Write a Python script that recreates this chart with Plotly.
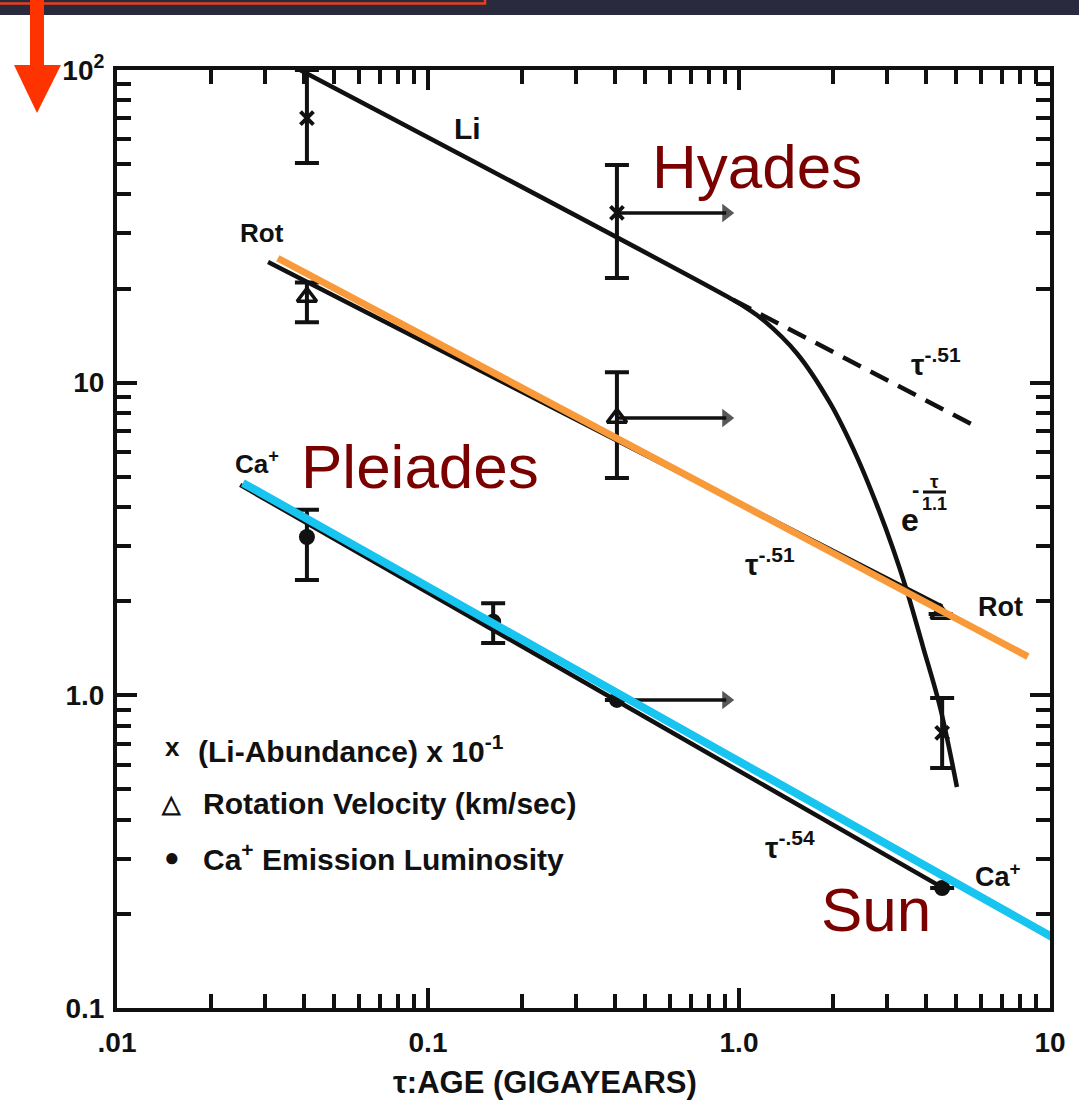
import plotly.graph_objects as go

# ---------------- data ----------------
# Li abundance x 10^-1 (x markers)
li_age = [0.0408, 0.405, 4.5]
li_val = [70.2, 34.9, 0.758]
li_hi = [100.0, 49.7, 0.98]
li_lo = [50.4, 21.6, 0.586]

# Rotation velocity km/s (triangles)
rot_age = [0.0408, 0.405, 4.45]
rot_val = [18.8, 7.71, 1.82]
rot_hi = [20.9, 10.8, 1.82]
rot_lo = [15.6, 4.96, 1.82]

# Ca+ emission luminosity (dots)
ca_age = [0.0408, 0.162, 0.405, 4.5]
ca_val = [3.21, 1.72, 0.967, 0.242]
ca_hi = [3.92, 1.97, 0.967, 0.242]
ca_lo = [2.34, 1.47, 0.967, 0.242]

# Hyades lower-limit arrows (start age, end age)
arrow_age = [0.405, 0.91]

# Li fitted curve (power law then exponential decline)
li_curve_age = [0.0388, 0.957, 1.07, 1.194, 1.536, 1.962, 2.394, 2.778, 3.126, 3.47, 3.905, 4.43, 5.02]
li_curve_val = [100.0, 18.4, 17.2, 15.9, 12.4, 8.61, 5.79, 4.05, 2.95, 2.15, 1.43, 0.918, 0.509]
# dashed continuation tau^-.51
li_dash_age = [0.957, 5.65]
li_dash_val = [18.4, 7.33]

# Rot fitted line (black) and overlay (orange)
rot_fit_age = [0.0306, 4.5]
rot_fit_val = [24.3, 1.92]
orange_age = [0.0329, 8.49]
orange_val = [25.0, 1.33]

# Ca fitted line (black) and overlay (cyan)
ca_fit_age = [0.0249, 4.6]
ca_fit_val = [4.71, 0.24]
cyan_age = [0.0254, 10.8]
cyan_val = [4.78, 0.163]

x_tickvals = [0.01, 0.1, 1, 10]
x_ticktext = ['.01', '0.1', '1.0', '10']
y_tickvals = [0.1, 1, 10, 100]
y_ticktext = ['0.1', '1.0', '10', '10<sup>2</sup>']
x_minor = [0.02, 0.03, 0.04, 0.05, 0.06, 0.07, 0.08, 0.09,
           0.2, 0.3, 0.4, 0.5, 0.6, 0.7, 0.8, 0.9,
           2, 3, 4, 5, 6, 7, 8, 9]
y_minor = [0.2, 0.3, 0.4, 0.5, 0.6, 0.7, 0.8, 0.9,
           2, 3, 4, 5, 6, 7, 8, 9,
           20, 30, 40, 50, 60, 70, 80, 90]

# ---------------- layout helpers ----------------
W, H = 1079, 1103
L, R, T, B = 117, 29, 70, 95
PW, PH = W - L - R, H - T - B


def px(x):
    return (x - L) / PW


def py(y):
    return (H - B - y) / PH


FONT = "Liberation Sans, Arial, sans-serif"
BLACK = "#111111"

fig = go.Figure()

# fitted lines
fig.add_trace(go.Scatter(x=li_curve_age, y=li_curve_val, mode="lines",
                         line=dict(color=BLACK, width=4.5, shape="spline", smoothing=1.0),
                         hoverinfo="skip", showlegend=False))
fig.add_trace(go.Scatter(x=li_dash_age, y=li_dash_val, mode="lines",
                         line=dict(color=BLACK, width=4.5, dash="20px,11px"),
                         hoverinfo="skip", showlegend=False))
fig.add_trace(go.Scatter(x=rot_fit_age, y=rot_fit_val, mode="lines",
                         line=dict(color=BLACK, width=4.5), hoverinfo="skip", showlegend=False))
fig.add_trace(go.Scatter(x=ca_fit_age, y=ca_fit_val, mode="lines",
                         line=dict(color=BLACK, width=4.5), hoverinfo="skip", showlegend=False))

# Hyades lower-limit arrows
for yv in [li_val[1], rot_val[1], ca_val[2]]:
    fig.add_trace(go.Scatter(x=arrow_age, y=[yv, yv], mode="lines+markers",
                             line=dict(color=BLACK, width=3.5),
                             marker=dict(symbol=["circle", "triangle-right"], size=[0, 16],
                                         color=BLACK, line=dict(width=0)),
                             hoverinfo="skip", showlegend=False))

# data points
fig.add_trace(go.Scatter(
    x=li_age, y=li_val, mode="markers", name="Li",
    marker=dict(symbol="x-thin", size=13, line=dict(width=4, color=BLACK)),
    error_y=dict(type="data", symmetric=False,
                 array=[h - v for h, v in zip(li_hi, li_val)],
                 arrayminus=[v - l for v, l in zip(li_val, li_lo)],
                 width=12, thickness=4, color=BLACK),
    showlegend=False))
fig.add_trace(go.Scatter(
    x=rot_age, y=rot_val, mode="markers", name="Rot",
    marker=dict(symbol="triangle-up-open", size=17, color=BLACK, line=dict(width=3.5, color=BLACK)),
    error_y=dict(type="data", symmetric=False,
                 array=[h - v for h, v in zip(rot_hi, rot_val)],
                 arrayminus=[v - l for v, l in zip(rot_val, rot_lo)],
                 width=12, thickness=4, color=BLACK),
    showlegend=False))
fig.add_trace(go.Scatter(
    x=ca_age, y=ca_val, mode="markers", name="Ca+",
    marker=dict(symbol="circle", size=16, color=BLACK),
    error_y=dict(type="data", symmetric=False,
                 array=[h - v for h, v in zip(ca_hi, ca_val)],
                 arrayminus=[v - l for v, l in zip(ca_val, ca_lo)],
                 width=12, thickness=4, color=BLACK),
    showlegend=False))

# colour overlays
fig.add_trace(go.Scatter(x=orange_age, y=orange_val, mode="lines",
                         line=dict(color="#f89a3a", width=7), hoverinfo="skip", showlegend=False))
fig.add_trace(go.Scatter(x=cyan_age, y=cyan_val, mode="lines",
                         line=dict(color="#18c4f0", width=8), hoverinfo="skip", showlegend=False))

axis_common = dict(
    type="log", showline=True, linewidth=4, linecolor=BLACK, mirror="ticks",
    ticks="inside", ticklen=20, tickwidth=4, tickcolor=BLACK,
    showgrid=False, zeroline=False, tickmode="array",
    tickfont=dict(family=FONT, size=28, color=BLACK),
)

fig.update_xaxes(range=[-2, 1], tickvals=x_tickvals,
                 ticktext=["<b>%s</b>" % t for t in x_ticktext],
                 ticklabelstandoff=6,
                 minor=dict(ticks="inside", ticklen=14, tickwidth=4, tickcolor=BLACK,
                            tickmode="array", tickvals=x_minor, showgrid=False),
                 **axis_common)
fig.update_yaxes(range=[-1, 2], tickvals=y_tickvals,
                 ticktext=["<b>%s</b>" % t for t in y_ticktext],
                 ticklabelstandoff=3,
                 minor=dict(ticks="inside", ticklen=14, tickwidth=4, tickcolor=BLACK,
                            tickmode="array", tickvals=y_minor, showgrid=False),
                 **axis_common)

ann = []


def text(x, y, s, size=26, color=BLACK, xanchor="center", bold=True, family=FONT):
    ann.append(dict(x=px(x), y=py(y), xref="paper", yref="paper", showarrow=False,
                    text=("<b>%s</b>" % s) if bold else s, xanchor=xanchor, yanchor="middle",
                    font=dict(family=family, size=size, color=color)))


# curve labels
text(467, 128, "Li", 30)
text(262, 233, "Rot", 26)
text(257, 462, "Ca<sup>+</sup>", 26)
text(936, 362, "τ<sup>-.51</sup>", 30)
text(770, 562, "τ<sup>-.51</sup>", 30)
text(790, 845, "τ<sup>-.54</sup>", 30)
text(1000, 607, "Rot", 27)
text(998, 875, "Ca<sup>+</sup>", 27)
# e^{-tau/1.1}
text(910, 520, "e", 32)
text(915, 489, "-", 22)
text(934, 481, "τ", 19)
text(934, 504, "1.1", 18)

# key
text(172, 747, "x", 26)
text(196, 749, "(Li-Abundance) x 10<sup>-1</sup>", 30, xanchor="left")
text(171, 803, "△", 24)
text(201, 803, "Rotation Velocity (km/sec)", 30, xanchor="left")
text(172, 857, "●", 26)
text(201, 857, "Ca<sup>+</sup> Emission Luminosity", 30, xanchor="left")

# axis title
text(545, 1082, "τ:AGE (GIGAYEARS)", 31)

# overlay labels
DARKRED = "#7b0000"
text(757, 166, "Hyades", 62, DARKRED, bold=False, family="Liberation Sans, Arial, Helvetica")
text(420, 467, "Pleiades", 62, DARKRED, bold=False, family="Liberation Sans, Arial, Helvetica")
text(876, 909, "Sun", 62, DARKRED, bold=False, family="Liberation Sans, Arial, Helvetica")

shapes = [
    # top dark bar
    dict(type="rect", xref="paper", yref="paper", x0=px(-5), x1=px(W + 5), y0=py(15), y1=py(-5),
         fillcolor="#292a3e", line=dict(width=0), layer="above"),
    # red outline box (slide element)
    dict(type="rect", xref="paper", yref="paper", x0=px(-10), x1=px(485), y0=py(3.5), y1=py(-20),
         fillcolor="rgba(0,0,0,0)", line=dict(color="#e8401c", width=2.5), layer="above"),
    # fraction bar of e^{-tau/1.1}
    dict(type="line", xref="paper", yref="paper", x0=px(923), x1=px(946), y0=py(492), y1=py(492),
         line=dict(color=BLACK, width=3)),
    # red arrow
    dict(type="path", xref="paper", yref="paper", layer="above",
         path="M %f %f L %f %f L %f %f L %f %f L %f %f L %f %f L %f %f Z" % (
             px(30), py(0), px(44), py(0), px(44), py(65), px(61), py(65),
             px(37), py(113), px(14), py(65), px(30), py(65)),
         fillcolor="#ff3300", line=dict(width=0)),
]

fig.update_layout(
    width=W, height=H,
    margin=dict(l=L, r=R, t=T, b=B, pad=0),
    paper_bgcolor="white", plot_bgcolor="white",
    annotations=ann, shapes=shapes, showlegend=False,
)

fig.write_html("out.html")
